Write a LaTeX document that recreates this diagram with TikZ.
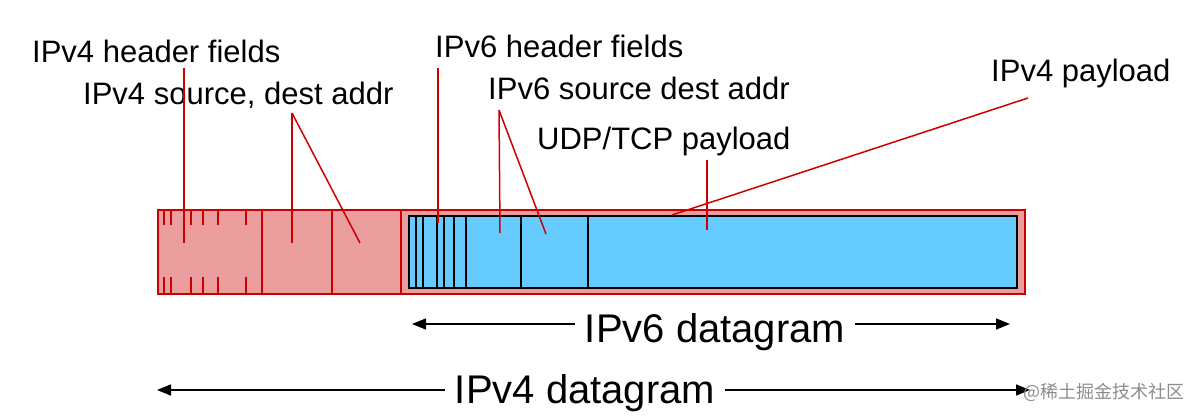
\documentclass[tikz,border=0pt]{standalone}
\usepackage{fontspec}
\setmainfont{Liberation Sans}
\newfontfamily\cjk{Noto Sans CJK SC}
\usetikzlibrary{arrows.meta}
\definecolor{pinkfill}{RGB}{234,158,158}
\definecolor{bluefill}{RGB}{102,204,255}
\definecolor{redline}{RGB}{204,0,0}
\begin{document}
\begin{tikzpicture}[x=1pt,y=-1pt,
  lbl/.style={anchor=base west, inner sep=0pt, font=\fontsize{31}{31}\selectfont},
  big/.style={anchor=base, inner ysep=0pt, inner xsep=10pt, font=\fontsize{40}{40}\selectfont},
  leader/.style={draw=redline, line width=1.5pt},
  tickline/.style={draw=redline, line width=1.5pt},
  v4div/.style={draw=redline, line width=1.2pt},
  v6div/.style={draw=black, line width=1.2pt},
  dimarrow/.style={line width=1.5pt, -{Triangle[length=14pt,width=11pt]}}
]
\useasboundingbox (0,0) rectangle (1198,417);

% boxes
\node[draw=redline, fill=pinkfill, line width=2pt, minimum width=867pt, minimum height=84pt,
      inner sep=0pt, anchor=north west] (v4box) at (157,209) {};
\draw[v4div] (401,209) -- (401,293);
\node[draw=black, fill=bluefill, line width=2pt, minimum width=608pt, minimum height=72pt,
      inner sep=0pt, anchor=north west] (v6box) at (408,215) {};

% IPv4 header dividers and ticks
\foreach \x in {262,332} \draw[v4div] (\x,209) -- (\x,293);
\foreach \x in {164,171,191,203,218,246} {
  \draw[tickline] (\x,209) -- (\x,225);
  \draw[tickline] (\x,277) -- (\x,293);
}
% IPv6 header dividers
\foreach \x in {416,423,437,444,454,466,521,588} \draw[v6div] (\x,215) -- (\x,287);

% labels
\node[lbl] (l4h) at (32,63) {IPv4 header fields};
\node[lbl] (l4a) at (83,105) {IPv4 source, dest addr};
\node[lbl] (l6h) at (435,58) {IPv6 header fields};
\node[lbl] (l6a) at (488,100) {IPv6 source dest addr};
\node[lbl] (lup) at (537,149) {UDP/TCP payload};
\node[lbl] (l4p) at (991,82) {IPv4 payload};

% leader coordinates
\coordinate (s4h) at (184,68);   \coordinate (e4h) at (184,243);
\coordinate (s4a) at (292,113);  \coordinate (e4a1) at (292,243); \coordinate (e4a2) at (360,243);
\coordinate (s6h) at (438,68);   \coordinate (e6h) at (438,223);
\coordinate (s6a) at (499,110);  \coordinate (e6a1) at (500,233); \coordinate (e6a2) at (546,234);
\coordinate (sup) at (707,160);  \coordinate (eup) at (707,230);
\coordinate (s4p) at (1028,98);  \coordinate (e4p) at (672,215);

\draw[leader] (s4h) -- (e4h);
\draw[leader] (s4a) -- (e4a1);
\draw[leader] (s4a) -- (e4a2);
\draw[leader] (s6h) -- (e6h);
\draw[leader] (s6a) -- (e6a1);
\draw[leader] (s6a) -- (e6a2);
\draw[leader] (sup) -- (eup);
\draw[leader] (s4p) -- (e4p);

% datagram dimension arrows
\node[big] (v6txt) at (715,342) {IPv6 datagram};
\node[big] (v4txt) at (585,403) {IPv4 datagram};
\coordinate (v6L) at (412,324); \coordinate (v6R) at (1010,324);
\coordinate (v4L) at (157,390); \coordinate (v4R) at (1030,390);
\draw[dimarrow] (v6txt.west |- v6L) -- (v6L);
\draw[dimarrow] (v6txt.east |- v6R) -- (v6R);
\draw[dimarrow] (v4txt.west |- v4L) -- (v4L);
\draw[dimarrow] (v4txt.east |- v4R) -- (v4R);

% watermark
\node[anchor=base west, inner sep=0pt, text=black!45, font=\cjk\fontsize{18}{18}\selectfont] (wm) at (1023,398) {@稀土掘金技术社区};
\end{tikzpicture}
\end{document}
